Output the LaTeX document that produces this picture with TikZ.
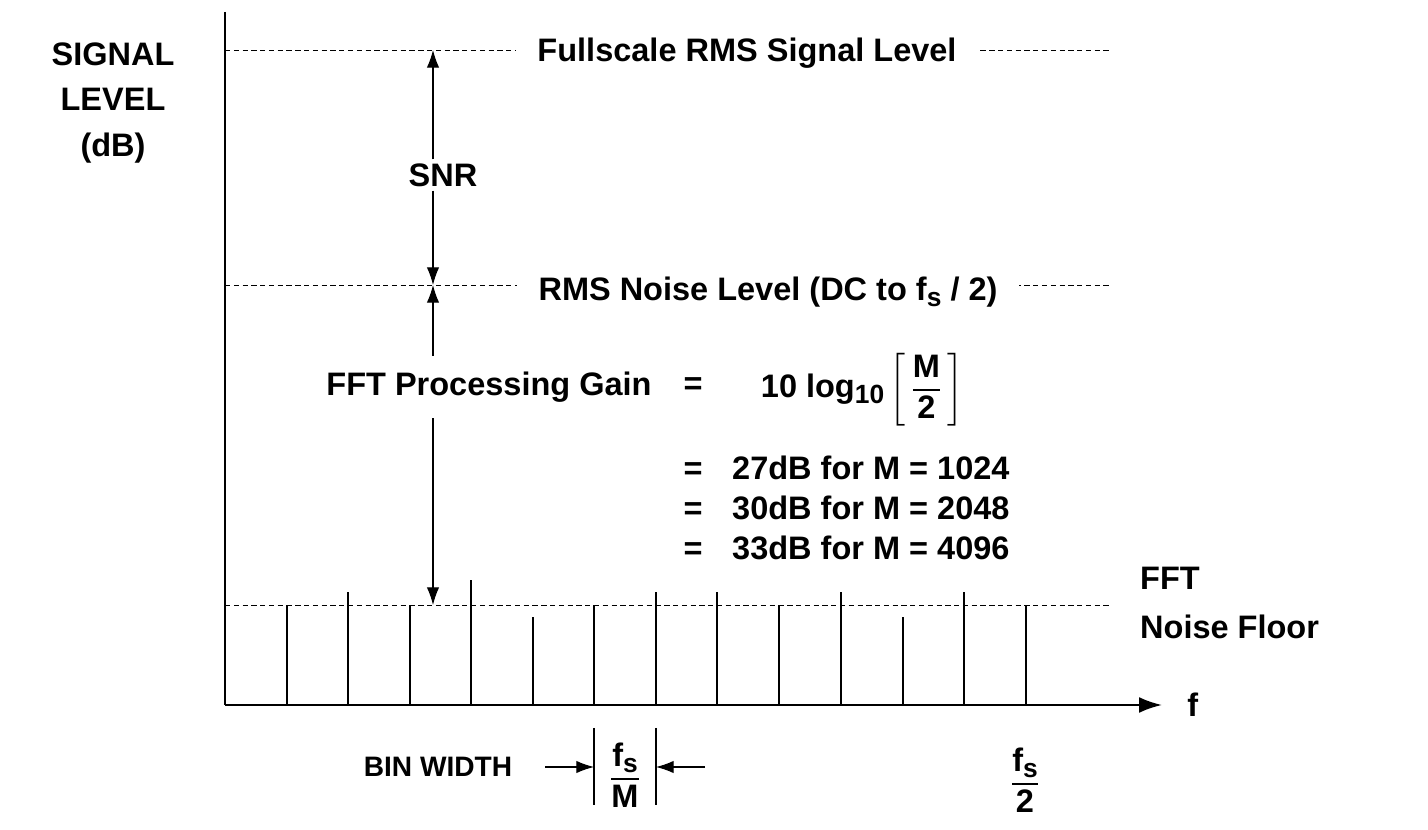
\documentclass[tikz,border=0pt]{standalone}
\usepackage{amsmath}
\usepackage{fontspec}
\setmainfont{Liberation Sans}
\usetikzlibrary{arrows.meta,positioning}
\tikzset{
    lbl/.style={font=\fontsize{18.5}{22}\selectfont\bfseries, inner sep=2pt},
    level/.style={densely dashed, thin},
    dim/.style={-{Latex[length=10pt,width=7pt]}, semithick}
}
\newcommand{\subs}[1]{\raisebox{-0.35ex}{\fontsize{15}{15}\selectfont #1}}

\begin{document}
\begin{tikzpicture}[x=0.02cm, y=-0.02cm, line width=0.8pt]
    \useasboundingbox (0,0) rectangle (1428,830);
    % axes
    \coordinate (o) at (225,705);
    \draw[line width=1.3pt] (225,12) -- (o);
    \draw[line width=1.3pt, -{Latex[length=13pt,width=9pt]}] (o) -- (1162,705) coordinate (xend);
    \node[lbl, right=12pt of xend] (f) {f};
    \node[lbl, align=center] (ylab) at (113,103) {SIGNAL\\[4pt]LEVEL\\[4pt](dB)};

    % levels
    \draw[level] (225,50) -- (1112,50);
    \draw[level] (225,285) -- (1112,285);
    \draw[level] (225,605) -- (1112,605);
    \node[lbl, fill=white, inner xsep=12pt] (full) at (747,53) {Fullscale RMS Signal Level};
    \node[lbl, fill=white, inner xsep=12pt] (noise) at (768,292) {RMS Noise Level (DC to f\subs{s} / 2)};
    \node[lbl, align=left, anchor=west] (floor) at (1136,603) {FFT\\[6pt]Noise Floor};

    % bins
    \foreach \x/\t in {287/605, 348/592, 410/605, 471/580, 533/617, 594/605, 656/592,
                       717/592, 779/605, 841/592, 903/617, 964/592, 1026/605}
        \draw (\x,705) -- (\x,\t);

    % SNR and gain
    \coordinate (top) at (433,50);
    \coordinate (mid) at (433,285);
    \coordinate (bot) at (433,605);
    \node[lbl] (snr) at (443,175) {SNR};
    \draw[dim] (snr.north -| top) -- (top);
    \draw[dim] (snr.south -| top) -- (mid);
    \node[lbl] (gain) at (489,387) {FFT Processing Gain};
    \draw[dim] (gain.north -| mid) ++(0,-12) -- (mid);
    \draw[dim] (gain.south -| mid) ++(0,12) -- (bot);
    \node[lbl, anchor=base] (eq0) at (693,395) {=};
    \node[lbl] (form) at (862,390) {10 log\subs{10}\,$\left[\,\dfrac{\text{\bfseries M}}{\text{\bfseries 2}}\,\right]$};
    \foreach \y/\m/\d [count=\i] in {480/1024/27, 520/2048/30, 560/4096/33} {
        \node[lbl, anchor=base] (eq\i) at (693,\y) {=};
        \node[lbl, anchor=base west] (res\i) at (728,\y) {\d dB for M = \m};
    }

    % bin width
    \draw (594,728) -- (594,805);
    \draw (656,728) -- (656,805);
    \coordinate (bl) at (594,767);
    \coordinate (br) at (656,767);
    \node[lbl, font=\fontsize{16}{18}\selectfont\bfseries] (bw) at (438,767) {BIN WIDTH};
    \draw[dim] (545,767) -- (bl);
    \draw[dim] (705,767) -- (br);
    \node[lbl] (fsm) at (625,775) {$\dfrac{\text{\bfseries f\subs{s}}}{\text{\bfseries M}}$};
    \node[lbl] (fs2) at (1025,780) {$\dfrac{\text{\bfseries f\subs{s}}}{\text{\bfseries 2}}$};
\end{tikzpicture}
\end{document}
